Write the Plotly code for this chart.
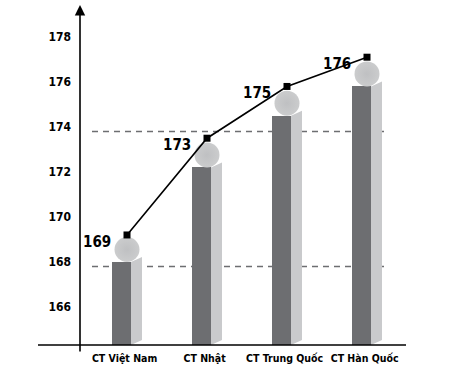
import plotly.graph_objects as go

# ---- data ----
categories = ["CT Việt Nam", "CT Nhật", "CT Trung Quốc", "CT Hàn Quốc"]
bar_tops = [168.0, 172.2, 174.5, 175.8]        # top of each column
line_values = [169.2, 173.5, 175.8, 177.1]     # square markers of the line
value_labels = ["169", "173", "175", "176"]
reference_levels = [167.8, 173.8]              # dashed guide lines
y_tick_values = [166, 168, 170, 172, 174, 176, 178]

# ---- styling / geometry ----
FONT = "Liberation Sans Narrow, DejaVu Sans Condensed, Arial Narrow, sans-serif"
FRONT = "#6d6e71"
SIDE = "#c9cacc"
Y_MIN, Y_MAX = 164.31, 179.42
X_MIN, X_MAX = -0.5875, 3.4875
W, H = 450, 373
M = dict(l=80, r=44, t=5, b=28, pad=0)
plot_h = H - M["t"] - M["b"]
px_per_unit = plot_h / (Y_MAX - Y_MIN)

front_left, front_right = -15 / 80, 4 / 80
side_right = 15 / 80
side_rise = 5 / px_per_unit
sphere_r_px = 12.5

xs = list(range(len(categories)))

fig = go.Figure()

# front faces
fig.add_trace(go.Bar(
    x=[i + (front_left + front_right) / 2 for i in xs],
    y=[t - Y_MIN for t in bar_tops],
    base=Y_MIN,
    width=front_right - front_left,
    marker=dict(color=FRONT, line=dict(width=0)),
    hoverinfo="skip",
))

# side faces (parallelograms)
for i, t in zip(xs, bar_tops):
    fig.add_trace(go.Scatter(
        x=[i + front_right, i + side_right, i + side_right, i + front_right, i + front_right],
        y=[Y_MIN, Y_MIN + side_rise, t + side_rise, t, Y_MIN],
        fill="toself", fillcolor=SIDE, mode="lines", line=dict(width=0),
        hoverinfo="skip",
    ))

# spheres on top
fig.add_trace(go.Scatter(
    x=xs,
    y=[t + sphere_r_px / px_per_unit for t in bar_tops],
    mode="markers",
    marker=dict(size=2 * sphere_r_px, color="#cbcccd",
                gradient=dict(type="radial", color="#bfc0c2"),
                line=dict(width=0)),
    hoverinfo="skip",
))

# line with square markers
fig.add_trace(go.Scatter(
    x=xs, y=line_values, mode="lines+markers",
    line=dict(color="black", width=1.6),
    marker=dict(symbol="square", size=7, color="black"),
    hoverinfo="skip",
))

shapes = []
for lvl in reference_levels:
    shapes.append(dict(type="line", xref="paper", yref="y",
                       x0=12 / 326, x1=308 / 326, y0=lvl, y1=lvl,
                       line=dict(color=FRONT, width=1.5, dash="6px,5px"),
                       layer="below"))
# x axis line extending left of the y axis
shapes.append(dict(type="line", xref="paper", yref="paper",
                   x0=-42 / 326, x1=1, y0=0, y1=0,
                   line=dict(color="black", width=1.6)))

annotations = [dict(xref="paper", yref="paper", x=0, y=1, ax=0, ay=348,
                    axref="pixel", ayref="pixel", text="", showarrow=True,
                    arrowhead=2, arrowsize=1.3, arrowwidth=1.6,
                    arrowcolor="black", standoff=0)]
for i, v, lab in zip(xs, line_values, value_labels):
    annotations.append(dict(x=i, y=v, xref="x", yref="y", text=lab,
                            showarrow=False, xanchor="right", yanchor="middle",
                            xshift=-14, yshift=-7,
                            font=dict(family=FONT, size=15, color="black",
                                      weight="bold")))

fig.update_layout(
    width=W, height=H, margin=M,
    paper_bgcolor="white", plot_bgcolor="white",
    showlegend=False, bargap=0,
    shapes=shapes, annotations=annotations,
    xaxis=dict(range=[X_MIN, X_MAX], tickvals=[i - 0.03 for i in xs],
               ticktext=categories, showgrid=False, zeroline=False,
               showline=False, ticks="", ticklabelstandoff=5,
               tickangle=0, automargin=False,
               tickfont=dict(family=FONT, size=10.5, color="black", weight="bold")),
    yaxis=dict(range=[Y_MIN, Y_MAX], tickvals=y_tick_values,
               showgrid=False, zeroline=False, showline=False, ticks="",
               ticklabelstandoff=8, automargin=False,
               tickfont=dict(family=FONT, size=12, color="black", weight="bold")),
)

fig.write_html(
    "out.html",
    config={"displayModeBar": False},
    post_script="document.body.style.margin='0';document.body.style.padding='0';",
)
